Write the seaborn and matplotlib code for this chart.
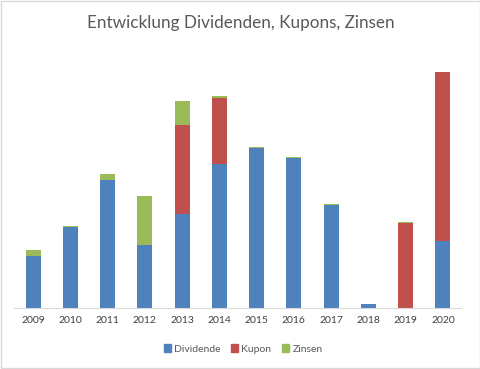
import pandas as pd
import matplotlib.pyplot as plt
import seaborn as sns
from matplotlib.patches import Rectangle, Patch

# Werte (Einheit: relative Höhe)
jahre = ["2009", "2010", "2011", "2012", "2013", "2014",
         "2015", "2016", "2017", "2018", "2019", "2020"]
dividende = [51.3, 80.6, 127.3, 62.3, 93.6, 143.3, 159.6, 150.0, 102.6, 3.3, 0.0, 66.3]
kupon = [0.0, 0.0, 0.0, 0.0, 89.0, 66.3, 0.0, 0.0, 0.0, 0.0, 84.6, 169.0]
zinsen = [6.0, 1.0, 6.0, 49.0, 23.7, 2.0, 0.7, 0.7, 0.7, 0.5, 0.7, 0.0]

farben = {"Dividende": "#4F81BD", "Kupon": "#C0504D", "Zinsen": "#9BBB59"}

df = pd.DataFrame({"Jahr": jahre, "Dividende": dividende, "Kupon": kupon, "Zinsen": zinsen})
df["bis_kupon"] = df["Dividende"] + df["Kupon"]
df["gesamt"] = df["bis_kupon"] + df["Zinsen"]

sns.set_style("white")
plt.rcParams["font.family"] = ["Lato", "DejaVu Sans"]

fig = plt.figure(figsize=(4.81, 3.69), dpi=100)
ax = fig.add_axes([14.5 / 481, 1 - 307.5 / 369, 447 / 481, 245 / 369])

# gestapelt: von hinten nach vorne zeichnen
for spalte, name in [("gesamt", "Zinsen"), ("bis_kupon", "Kupon"), ("Dividende", "Dividende")]:
    sns.barplot(data=df, x="Jahr", y=spalte, color=farben[name], width=0.4,
                saturation=1, linewidth=0, ax=ax)

ax.set_ylim(0, 245)
ax.set_xlim(-0.5, len(jahre) - 0.5)
ax.set_xlabel("")
ax.set_ylabel("")
ax.set_yticks([])
for s in ["top", "left", "right"]:
    ax.spines[s].set_visible(False)
ax.spines["bottom"].set_color("#d9d9d9")
ax.tick_params(axis="x", length=0, pad=6, labelsize=7.5, labelcolor="#404040")

fig.text(0.5, 1 - 23 / 369, "Entwicklung Dividenden, Kupons, Zinsen",
         ha="center", va="center", fontsize=12.3, color="#595959")

handles = [Patch(color=c, label=n) for n, c in farben.items()]
fig.legend(handles=handles, loc="center", bbox_to_anchor=(243 / 481, 1 - 349 / 369),
           ncol=3, frameon=False, fontsize=7.5, labelcolor="#595959",
           handlelength=0.7, handleheight=0.7, handletextpad=0.3, columnspacing=1.0)

fig.patches.append(Rectangle((0.002, 0.002), 0.996, 0.996, transform=fig.transFigure,
                             fill=False, edgecolor="#d9d9d9", linewidth=1))

fig.savefig("out.png", dpi=100)
